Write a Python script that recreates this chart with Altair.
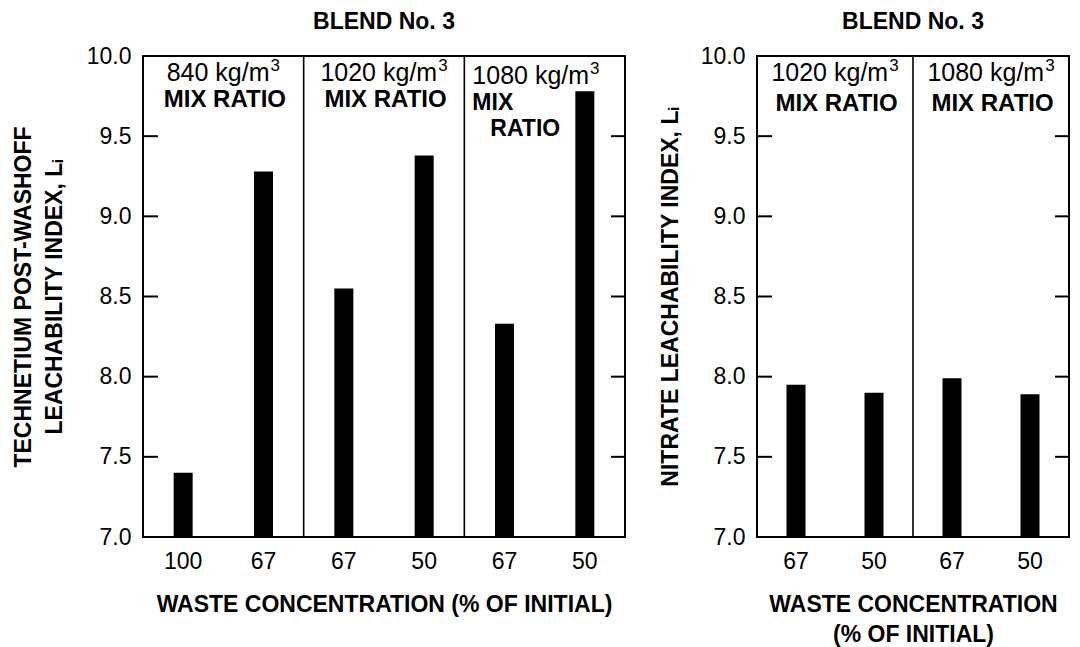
import altair as alt
import pandas as pd

FONT = "Liberation Sans, Arial, Helvetica, DejaVu Sans, sans-serif"

# ---- data ----
left_labels = ["100", "67", "67", "50", "67", "50"]
left_values = [7.40, 9.28, 8.55, 9.38, 8.33, 9.78]
left_sections = [["840 kg/m³", "MIX RATIO"],
                 ["1020 kg/m³", "MIX RATIO"],
                 ["1080 kg/m³", "MIX", "RATIO"]]

right_labels = ["67", "50", "67", "50"]
right_values = [7.95, 7.90, 7.99, 7.89]
right_sections = [["1020 kg/m³", "MIX RATIO"],
                  ["1080 kg/m³", "MIX RATIO"]]

y_tick_labels = [7.0, 7.5, 8.0, 8.5, 9.0, 9.5, 10.0]
inner_ticks = [7.5, 8.0, 8.5, 9.0, 9.5]

panel_title = "BLEND No. 3"
left_ytitle = ["TECHNETIUM POST-WASHOFF", "LEACHABILITY INDEX, Lᵢ"]
right_ytitle = "NITRATE LEACHABILITY INDEX, Lᵢ"
left_xtitle = "WASTE CONCENTRATION (% OF INITIAL)"
right_xtitle = ["WASTE CONCENTRATION", "(% OF INITIAL)"]

H = 481
F1 = 25   # size of the "kg/m" line
FS = 17   # superscript size
F2 = 24   # size of the "MIX RATIO" line

# approximate advance widths (Arial / Liberation Sans metrics, per 1000 em)
_W = {" ": 278, "k": 500, "g": 556, "/": 278, "m": 833}


def text_width(s, size):
    return sum(_W.get(c, 556) for c in s) * size / 1000.0


def make_panel(labels, values, sections, width, ytitle, xtitle, ytitle_pad,
               line_y):
    cats = [f"{i}:{l}" for i, l in enumerate(labels)]
    yscale = alt.Scale(domain=[7, 10], nice=False, zero=False)
    xscale = alt.Scale(domain=cats, paddingInner=0, paddingOuter=0)
    xaxis = alt.Axis(labelExpr="split(datum.value, ':')[1]", title=xtitle,
                     labelAngle=0, ticks=False, domain=False, grid=False,
                     labelFontSize=23, labelPadding=13, labelFont=FONT,
                     labelColor="black", titleFont=FONT, titleFontSize=23,
                     titleFontWeight="bold", titleColor="black",
                     titlePadding=20, titleLineHeight=30)
    yaxis = alt.Axis(values=y_tick_labels, format=".1f", title=ytitle,
                     ticks=False, domain=False, grid=False,
                     labelFontSize=23, labelPadding=12, labelFont=FONT,
                     labelColor="black", titleFont=FONT, titleFontSize=23,
                     titleFontWeight="bold", titleColor="black",
                     titlePadding=ytitle_pad, titleLineHeight=31)

    def xenc(band=None):
        if band is None:
            return alt.X("cat:N", scale=xscale, sort=cats, axis=xaxis)
        return alt.X("cat:N", scale=xscale, sort=cats, axis=xaxis,
                     bandPosition=band)

    def yenc():
        return alt.Y("v:Q", scale=yscale, axis=yaxis)

    df = pd.DataFrame({"cat": cats, "v": values})
    bars = alt.Chart(df).mark_bar(color="black", size=19).encode(
        x=xenc(), y=yenc(), y2=alt.Y2Datum(7.0))

    tdf = pd.DataFrame({"v": inner_ticks})
    lticks = alt.Chart(tdf).mark_rule(color="black", strokeWidth=2).encode(
        y=yenc(), x=alt.value(0), x2=alt.value(15))
    rticks = alt.Chart(tdf).mark_rule(color="black", strokeWidth=2).encode(
        y=yenc(), x=alt.value(width - 14), x2=alt.value(width))

    layers = [bars, lticks, rticks]

    # dividers between sections
    div_cats = [cats[2 * k] for k in range(1, len(sections))]
    ddf = pd.DataFrame({"cat": div_cats})
    layers.append(alt.Chart(ddf).mark_rule(color="black", strokeWidth=1.6).encode(
        x=xenc(0), y=alt.value(0), y2=alt.value(H)))

    def add_text(anchor, txt, dx, y, size, weight):
        tdfk = pd.DataFrame({"cat": [anchor], "txt": [txt]})
        layers.append(alt.Chart(tdfk).mark_text(
            align="left", baseline="alphabetic", font=FONT, fontSize=size,
            fontWeight=weight, color="black", dx=dx).encode(
            x=xenc(0), y=alt.value(y), text="txt:N"))

    # section labels
    for k, lines in enumerate(sections):
        head = lines[0]
        base = head.replace("³", "")
        wb = text_width(base, F1)
        total = wb + 1 + text_width("3", FS)
        if len(lines) == 2:
            anchor = cats[2 * k + 1]
            x0 = -total / 2.0
            add_text(anchor, base, x0, line_y[0], F1, "normal")
            add_text(anchor, "3", x0 + wb + 1, line_y[0] - 10, FS, "normal")
            w2 = text_width(lines[1], F2) * 1.05
            add_text(anchor, lines[1], -w2 / 2.0, line_y[1], F2, "bold")
        else:
            anchor = cats[2 * k]
            x0 = 8
            add_text(anchor, base, x0, 28, F1, "normal")
            add_text(anchor, "3", x0 + wb + 1, 18, FS, "normal")
            add_text(anchor, lines[1], x0, 54, 23, "bold")
            add_text(anchor, lines[2], x0 + 18, 80, 23, "bold")

    return alt.layer(*layers).properties(
        width=width, height=H,
        title=alt.TitleParams(panel_title, font=FONT, fontSize=23,
                              fontWeight="bold", color="black", offset=11,
                              anchor="middle"))


left = make_panel(left_labels, left_values, left_sections, 482,
                  left_ytitle, left_xtitle, 20, [25, 51])
right = make_panel(right_labels, right_values, right_sections, 312,
                   right_ytitle, right_xtitle, 18, [25, 55])

chart = alt.hconcat(left, right, spacing=132, bounds="flush").properties(
    padding={"left": 11, "top": 10, "right": 4, "bottom": 0},
    background="white",
).configure_view(stroke="black", strokeWidth=2)

chart.save("out.html", embed_options={"renderer": "svg", "actions": False})
